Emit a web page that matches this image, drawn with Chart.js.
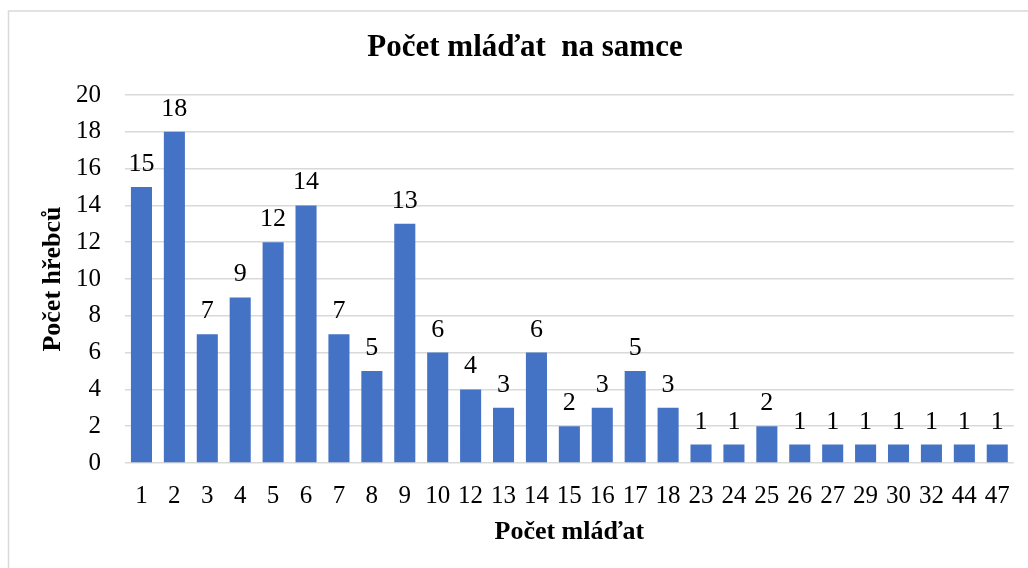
<!DOCTYPE html>
<html>
<head>
<meta charset="utf-8">
<script src="https://cdn.jsdelivr.net/npm/chart.js@4/dist/chart.umd.min.js"></script>
<style>
  html, body { margin: 0; padding: 0; background: #fff; }
  #wrap { width: 1028px; height: 568px; position: relative; }
</style>
</head>
<body>
<div id="wrap"><canvas id="c" width="1028" height="568"></canvas></div>
<script>
const categories = ['1','2','3','4','5','6','7','8','9','10','12','13','14','15','16','17','18','23','24','25','26','27','29','30','32','44','47'];
const values = [15,18,7,9,12,14,7,5,13,6,4,3,6,2,3,5,3,1,1,2,1,1,1,1,1,1,1];
const yTicks = [0,2,4,6,8,10,12,14,16,18,20];

const titleText = 'Počet mláďat  na samce';
const xTitle = 'Počet mláďat';
const yTitle = 'Počet hřebců';

const FONT = "'Liberation Serif', 'Times New Roman', serif";

const frame = {
  id: 'frame',
  beforeDraw(chart) {
    const ctx = chart.ctx;
    ctx.save();
    ctx.fillStyle = '#fff';
    ctx.fillRect(0, 0, chart.width, chart.height);
    ctx.strokeStyle = '#d9d9d9';
    ctx.lineWidth = 1.5;
    ctx.strokeRect(8.5, 11, 1030, 570);
    ctx.restore();
  }
};

const labels = {
  id: 'valueLabels',
  afterDatasetsDraw(chart) {
    const ctx = chart.ctx;
    ctx.save();
    ctx.font = '26px ' + FONT;
    ctx.fillStyle = '#000';
    ctx.textAlign = 'center';
    ctx.textBaseline = 'alphabetic';
    const meta = chart.getDatasetMeta(0);
    meta.data.forEach((el, i) => {
      ctx.fillText(String(chart.data.datasets[0].data[i]), el.x, el.y - 16);
    });
    ctx.restore();
  }
};

new Chart(document.getElementById('c'), {
  type: 'bar',
  data: {
    labels: categories,
    datasets: [{
      data: values,
      backgroundColor: '#4472C4',
      borderWidth: 0,
      categoryPercentage: 0.64,
      barPercentage: 1.0
    }]
  },
  options: {
    responsive: false,
    animation: false,
    devicePixelRatio: 1,
    layout: { padding: { left: 22, right: 0, top: 0, bottom: 0 } },
    plugins: {
      legend: { display: false },
      tooltip: { enabled: false },
      title: {
        display: true,
        text: titleText,
        color: '#000',
        font: { family: FONT, size: 31, weight: 'bold', lineHeight: 1.2 },
        padding: { top: 29.4, bottom: 28.4 }
      }
    },
    scales: {
      x: {
        grid: { display: false, drawTicks: false },
        border: { display: false },
        ticks: {
          color: '#000',
          font: { family: FONT, size: 25 },
          padding: 18,
          maxRotation: 0,
          autoSkip: false
        },
        title: {
          display: true,
          text: xTitle,
          color: '#000',
          font: { family: FONT, size: 26, weight: 'bold', lineHeight: 1.2 },
          padding: { top: 0, bottom: 20.4 }
        },
        afterFit(scale) { scale.height = 105; }
      },
      y: {
        min: 0,
        max: 20,
        afterBuildTicks(scale) { scale.ticks = yTicks.map(v => ({ value: v })); },
        grid: { color: '#d9d9d9', lineWidth: 1.5, drawTicks: false },
        border: { display: false },
        ticks: {
          color: '#000',
          font: { family: FONT, size: 25 },
          padding: 24
        },
        title: {
          display: true,
          text: yTitle,
          color: '#000',
          font: { family: FONT, size: 26, weight: 'bold', lineHeight: 1.2 },
          padding: { top: 16, bottom: 0 }
        },
        afterFit(scale) { scale.width = 103; }
      },
      yRight: {
        position: 'right',
        min: 0,
        max: 20,
        grid: { display: false, drawTicks: false },
        border: { display: false },
        ticks: { display: false },
        afterFit(scale) { scale.width = 13; }
      }
    }
  },
  plugins: [frame, labels]
});
</script>
</body>
</html>
